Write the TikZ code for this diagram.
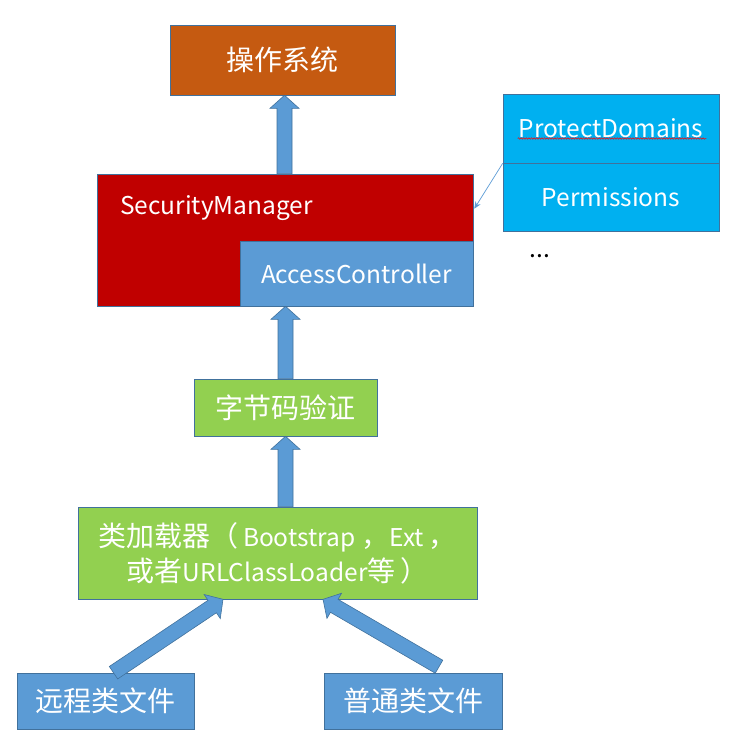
\documentclass[tikz,border=0pt]{standalone}
\usepackage{fontspec}
\setmainfont{Noto Sans CJK SC}
\usetikzlibrary{calc,arrows.meta,decorations.pathmorphing}
\definecolor{osorange}{HTML}{C55A11}
\definecolor{smred}{HTML}{C00000}
\definecolor{accblue}{HTML}{5B9BD5}
\definecolor{edgeblue}{HTML}{41719C}
\definecolor{skyblue}{HTML}{00B0F0}
\definecolor{leafgreen}{HTML}{92D050}
\newcommand\lat[1]{{\fontsize{24.5}{34}\selectfont #1}}
\tikzset{
  box/.style={draw=edgeblue, line width=0.6pt, inner sep=0pt, text=white,
    font=\fontsize{24.5}{32}\selectfont, align=center},
  cjkbox/.style={box, font=\fontsize{28}{35}\selectfont},
  barrow/.style={fill=accblue, draw=edgeblue, line width=0.6pt, line join=miter},
  thinlink/.style={draw=accblue, line width=0.7pt, -{Stealth[length=7pt,width=6pt]}},
}
\newcommand\blockarrow[2]{%
  \pgfpointdiff{\pgfpointanchor{#1}{center}}{\pgfpointanchor{#2}{center}}%
  \pgfgetlastxy\bAx\bAy
  \pgfmathsetmacro\bAang{atan2(\bAy,\bAx)}%
  \pgfmathsetmacro\bAlen{veclen(\bAx,\bAy)}%
  \pgfmathsetmacro\bAneck{\bAlen-13}%
  \draw[barrow,shift={(#1)},rotate=\bAang]
    (0pt,-7.5pt) -- (\bAneck pt,-7.5pt) -- (\bAneck pt,-14.5pt) -- (\bAlen pt,0pt)
    -- (\bAneck pt,14.5pt) -- (\bAneck pt,7.5pt) -- (0pt,7.5pt) -- cycle;}
\begin{document}
\begin{tikzpicture}[x=1pt,y=-1pt]
\useasboundingbox (0,0) rectangle (734,737);
% boxes
\node[cjkbox, fill=osorange, minimum width=225pt, minimum height=70pt] (os) at (282.5,60) {操作系统};
\node[box, fill=smred, minimum width=376pt, minimum height=132pt] (sm) at (285,240) {};
\node[box, fill=accblue, minimum width=233pt, minimum height=65pt] (ac) at (356.5,273.5) {AccessController};
\node[text=white, font=\fontsize{24.5}{32}\selectfont, anchor=west, inner sep=0pt] (smlabel) at (120,208) {SecurityManager};
\node[box, fill=skyblue, minimum width=216pt, minimum height=69pt] (pd) at (611,128.5) {ProtectDomains};
\node[box, fill=skyblue, minimum width=216pt, minimum height=68pt] (perm) at (611,197) {Permissions};
\node[font=\fontsize{24.5}{32}\selectfont, inner sep=0pt] (dots) at (540,256) {...};
\node[cjkbox, fill=leafgreen, minimum width=183pt, minimum height=57pt] (bv) at (285.5,407.5) {字节码验证};
\node[cjkbox, fill=leafgreen, minimum width=399pt, minimum height=92pt] (cl) at (277.5,553)
  {类加载器（\,\lat{Bootstrap} ，\lat{Ext}\,，\\或者\lat{URLClassLoader}等\,）};
\node[cjkbox, fill=accblue, minimum width=177pt, minimum height=56pt] (rf) at (105.5,701) {远程类文件};
\node[cjkbox, fill=accblue, minimum width=178pt, minimum height=56pt] (nf) at (413,701) {普通类文件};
% spell-check underline
\coordinate (uls) at ($(pd.west)+(15,10)$);
\coordinate (ule) at ($(pd.east)+(-13,10)$);
\draw[red, line width=0.5pt, decorate, decoration={snake, amplitude=0.8pt, segment length=2.6pt}] (uls) -- (ule);
% arrow end points
\coordinate (a1s) at ($(sm.north)+(-0.5,0)$);
\coordinate (a1t) at (os.south -| a1s);
\coordinate (a2s) at (bv.north);
\coordinate (a2t) at (bv.north |- sm.south);
\coordinate (a3t) at (bv.south);
\coordinate (a3s) at (bv.south |- cl.north);
\coordinate (a4s) at ($(rf.north)+(8,0)$);
\coordinate (a4t) at ($(cl.south)+(-54.5,0)$);
\coordinate (a5s) at ($(nf.north)+(26,-6)$);
\coordinate (a5t) at ($(cl.south)+(45.5,0)$);
\blockarrow{a1s}{a1t}
\blockarrow{a2s}{a2t}
\blockarrow{a3s}{a3t}
\blockarrow{a4s}{a4t}
\blockarrow{a5s}{a5t}
% thin link
\coordinate (lk) at ($(sm.north east)+(1,35)$);
\draw[thinlink] (pd.south west) -- (lk);
\end{tikzpicture}
\end{document}
